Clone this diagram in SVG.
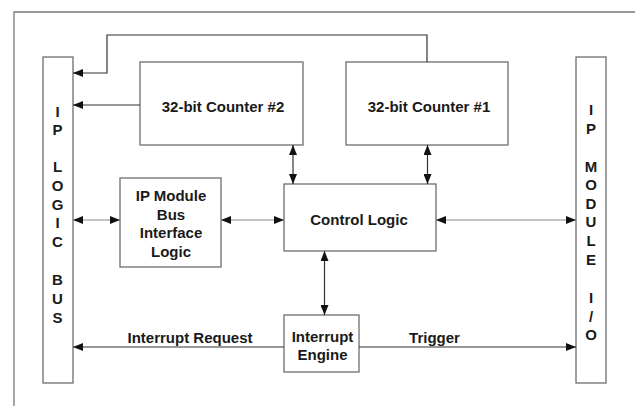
<svg xmlns="http://www.w3.org/2000/svg" width="635" height="406" viewBox="0 0 635 406">
<style>
.box{fill:#fff;stroke:#6e6e6e;stroke-width:1.3}
.t{font-family:"Liberation Sans",Arial,sans-serif;font-weight:bold;font-size:15px;fill:#1a1a1a;text-anchor:middle}
.ln{fill:none;stroke:#333;stroke-width:1.2}
.lg{fill:none;stroke:#8a8a8a;stroke-width:1.2}
</style>
<defs>
<marker id="ah" viewBox="0 0 10 8" refX="10" refY="4" markerWidth="10" markerHeight="8" markerUnits="userSpaceOnUse" orient="auto-start-reverse">
<path d="M0,0 L10,4 L0,8 z" fill="#111"/>
</marker>
</defs>
<rect width="635" height="406" fill="#fff"/>
<path d="M14,406 V12 H635" fill="none" stroke="#777" stroke-width="1.3"/>

<g id="ip-logic-bus">
<rect class="box" x="43" y="57" width="30" height="326"/>
<text class="t" x="57.5" y="116.5">I</text>
<text class="t" x="57.5" y="135">P</text>
<text class="t" x="57.5" y="172">L</text>
<text class="t" x="57.5" y="191">O</text>
<text class="t" x="57.5" y="209.5">G</text>
<text class="t" x="57.5" y="228">I</text>
<text class="t" x="57.5" y="246.5">C</text>
<text class="t" x="57.5" y="285">B</text>
<text class="t" x="57.5" y="304">U</text>
<text class="t" x="57.5" y="322.5">S</text>
</g>

<g id="ip-module-io">
<rect class="box" x="576" y="57" width="30" height="326"/>
<text class="t" x="591" y="115">I</text>
<text class="t" x="591" y="133.5">P</text>
<text class="t" x="591" y="171.5">M</text>
<text class="t" x="591" y="190">O</text>
<text class="t" x="591" y="209">D</text>
<text class="t" x="591" y="227">U</text>
<text class="t" x="591" y="246">L</text>
<text class="t" x="591" y="265">E</text>
<text class="t" x="591" y="303">I</text>
<text class="t" x="591" y="321.5">/</text>
<text class="t" x="591" y="340">O</text>
</g>

<g id="counter2">
<rect class="box" x="140" y="62" width="163" height="83"/>
<text class="t" x="223" y="111.5">32-bit Counter #2</text>
</g>

<g id="counter1">
<rect class="box" x="346" y="62" width="162" height="83"/>
<text class="t" x="429" y="111.5">32-bit Counter #1</text>
</g>

<g id="bus-interface">
<rect class="box" x="120" y="178" width="101" height="89"/>
<text class="t" x="171" y="200.5">IP Module</text>
<text class="t" x="171" y="219.5">Bus</text>
<text class="t" x="171" y="238">Interface</text>
<text class="t" x="171" y="256.5">Logic</text>
</g>

<g id="control-logic">
<rect class="box" x="284" y="184" width="152" height="67"/>
<text class="t" x="359" y="224.5">Control Logic</text>
</g>

<g id="interrupt-engine">
<rect class="box" x="284" y="315" width="75" height="57"/>
<text class="t" x="322.5" y="341.5">Interrupt</text>
<text class="t" x="322.5" y="360">Engine</text>
</g>

<g id="connectors">
<path class="ln" d="M427,62 V35 H107 V73 H73" marker-end="url(#ah)"/>
<path class="ln" d="M140,105 H73" marker-end="url(#ah)"/>
<path class="ln" d="M293,145 V184" marker-start="url(#ah)" marker-end="url(#ah)"/>
<path class="ln" d="M427.5,145 V184" marker-start="url(#ah)" marker-end="url(#ah)"/>
<path class="lg" d="M73,220 H120" marker-start="url(#ah)" marker-end="url(#ah)"/>
<path class="lg" d="M221,220 H284" marker-start="url(#ah)" marker-end="url(#ah)"/>
<path class="lg" d="M436,220 H576" marker-start="url(#ah)" marker-end="url(#ah)"/>
<path class="ln" d="M324.5,251 V315" marker-start="url(#ah)" marker-end="url(#ah)"/>
<path class="ln" d="M284,347 H73" marker-end="url(#ah)"/>
<path class="ln" d="M359,347 H576" marker-end="url(#ah)"/>
<text class="t" x="190" y="342.5">Interrupt Request</text>
<text class="t" x="434.5" y="342.5">Trigger</text>
</g>
</svg>
